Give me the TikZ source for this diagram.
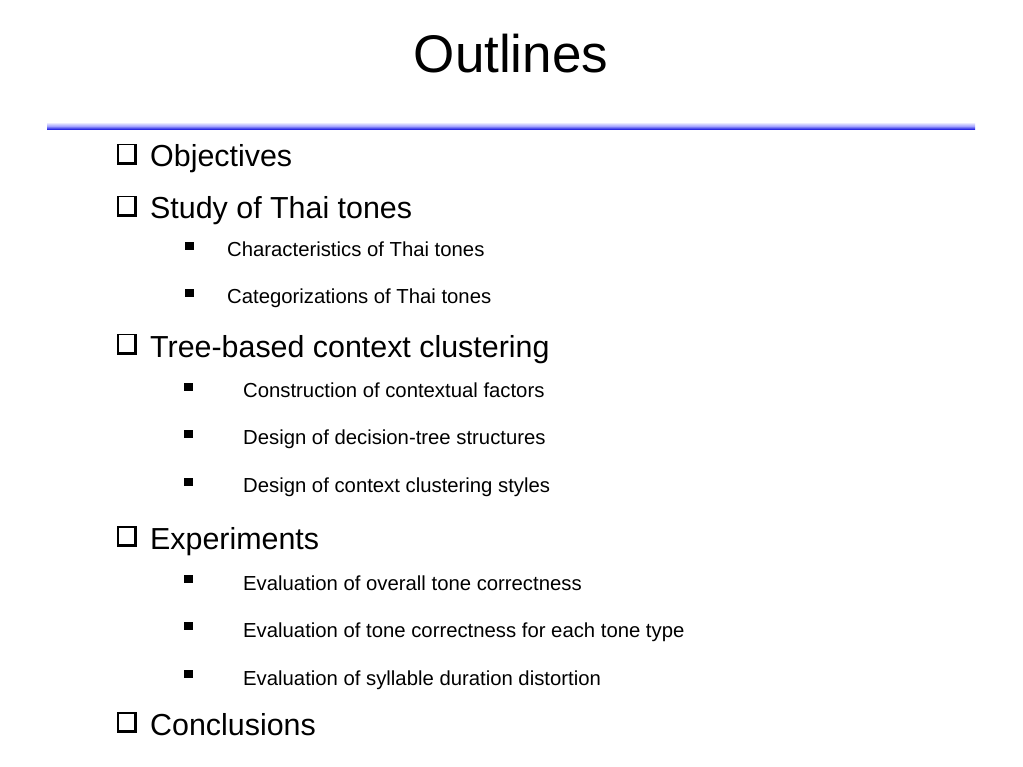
\documentclass[tikz,border=0pt]{standalone}
\usepackage{fontspec}
\setmainfont{Liberation Sans}
\begin{document}
\begin{tikzpicture}[x=1pt,y=-1pt,
  title/.style={anchor=base,inner sep=0pt,font=\fontsize{53}{60}\selectfont},
  lvlone/.style={anchor=base west,inner sep=0pt,font=\fontsize{30.4}{36}\selectfont},
  lvltwo/.style={anchor=base west,inner sep=0pt,font=\fontsize{20.3}{24}\selectfont},
  bul/.style={fill=black,draw=none,minimum width=9pt,minimum height=8.5pt,inner sep=0pt}
]
\useasboundingbox[fill=white] (0,0) rectangle (1023,767);
\node[title] (t) at (511,73) {Outlines};
\shade[top color=white,bottom color=blue!85!black,middle color=blue!35] (47,122) rectangle (975,130);
% check boxes
\newcommand{\chkbox}[1]{%
  \fill[black] (117,#1-23) rectangle (136.5,#1-2);
  \fill[white] (118.5,#1-21.5) rectangle (133.5,#1-5);
}
\chkbox{167}\chkbox{219}\chkbox{357}\chkbox{549}\chkbox{735}
\node[lvlone] (a) at (150,167) {Objectives};
\node[lvlone] (b) at (150,219) {Study of Thai tones};
\node[lvlone] (c) at (150,357) {Tree-based context clustering};
\node[lvlone] (d) at (150,549) {Experiments};
\node[lvlone] (e) at (150,735) {Conclusions};
% level two
\node[lvltwo] (b1) at (227,257) {Characteristics of Thai tones};
\node[lvltwo] (b2) at (227,304) {Categorizations of Thai tones};
\node[lvltwo] (c1) at (243,397) {Construction of contextual factors};
\node[lvltwo] (c2) at (243,444) {Design of decision-tree structures};
\node[lvltwo] (c3) at (243,492) {Design of context clustering styles};
\node[lvltwo] (d1) at (243,590) {Evaluation of overall tone correctness};
\node[lvltwo] (d2) at (243,637) {Evaluation of tone correctness for each tone type};
\node[lvltwo] (d3) at (243,685) {Evaluation of syllable duration distortion};
% bullets
\node[bul] (pb1) at (189.5,246) {};
\node[bul] (pb2) at (189.5,293) {};
\node[bul] (pc1) at (188,387) {};
\node[bul] (pc2) at (188,434) {};
\node[bul] (pc3) at (188,482) {};
\node[bul] (pd1) at (188,579) {};
\node[bul] (pd2) at (188,626) {};
\node[bul] (pd3) at (188,674) {};
\end{tikzpicture}
\end{document}
